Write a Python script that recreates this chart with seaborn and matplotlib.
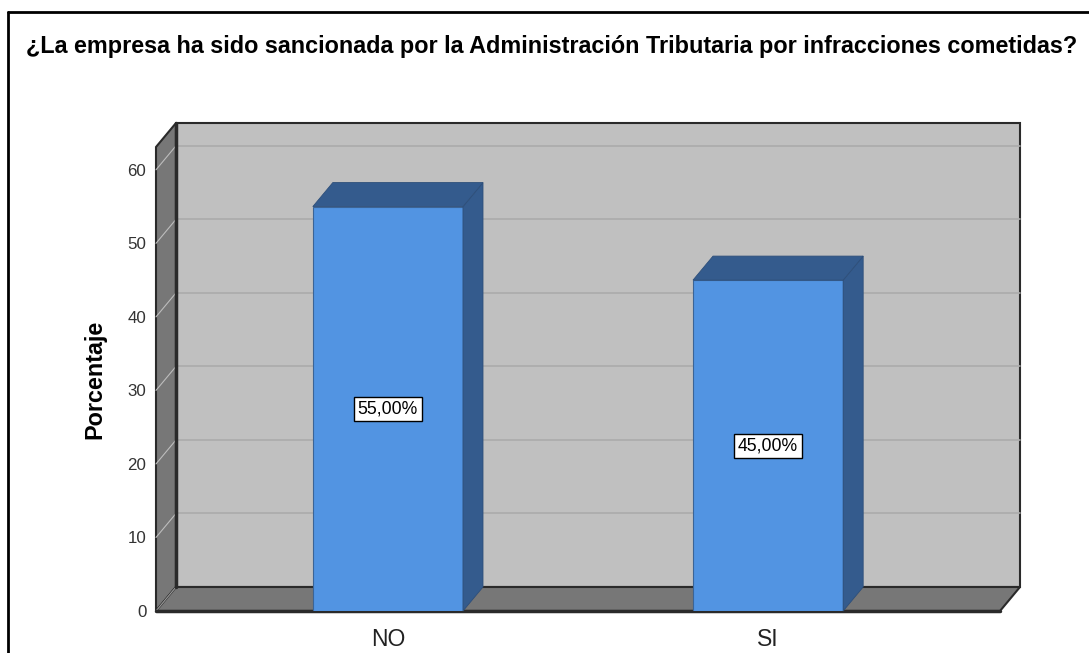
import matplotlib
matplotlib.use("Agg")
import matplotlib.pyplot as plt
from matplotlib.patches import Polygon, Rectangle
from matplotlib.lines import Line2D
import seaborn as sns

# Chart data
categories = ["NO", "SI"]
percentages = [55.0, 45.0]
value_labels = ["55,00%", "45,00%"]
y_ticks = [0, 10, 20, 30, 40, 50, 60]
title = "¿La empresa ha sido sancionada por la Administración Tributaria por infracciones cometidas?"

# Colours (SPSS style 3D chart)
wall_color = "#C0C0C0"
side_color = "#777777"
edge_color = "#2A2A2A"
bar_front = "#5294E2"
bar_shade = "#345B8D"

sns.set_theme(style="white")
plt.rcParams["font.family"] = ["Liberation Sans", "DejaVu Sans"]

W, H = 1089, 653
fig = plt.figure(figsize=(W / 100, H / 100), dpi=100)

# front plane of the box, in pixels
left_px, right_px, bottom_px, top_px = 156, 1000, 611, 147
ax = fig.add_axes([left_px / W, 1 - bottom_px / H,
                   (right_px - left_px) / W, (bottom_px - top_px) / H])

# Front faces of the bars
sns.barplot(x=categories, y=percentages, color=bar_front, saturation=1,
            width=0.395, edgecolor="#3B6496", linewidth=0.8, ax=ax, zorder=3)

y_max = 63.1
x_min, x_max = -0.61, 1.61
ax.set_xlim(x_min, x_max)
ax.set_ylim(0, y_max)

# depth of the box in data units (20 px right, 24 px up)
dx = 20 * (x_max - x_min) / (right_px - left_px)
dy = 24 * y_max / (bottom_px - top_px)

# back wall
ax.add_patch(Rectangle((x_min + dx, dy), x_max - x_min, y_max, facecolor=wall_color,
                       edgecolor=edge_color, lw=1.5, zorder=0, clip_on=False))
for v in y_ticks[1:]:
    ax.plot([x_min + dx, x_max + dx], [v + dy, v + dy], color="#ABABAB", lw=1.2,
            zorder=0.5, clip_on=False)

# left wall
ax.add_patch(Polygon([(x_min, 0), (x_min + dx, dy), (x_min + dx, y_max + dy), (x_min, y_max)],
                     closed=True, facecolor=side_color, edgecolor=edge_color, lw=1.5,
                     zorder=1, clip_on=False))
for v in y_ticks[1:]:
    ax.plot([x_min, x_min + dx], [v, v + dy], color="#BDBDBD", lw=0.8, zorder=1.2, clip_on=False)
ax.plot([x_min, x_min + dx], [0, dy], color="#9A9A9A", lw=0.8, zorder=1.2, clip_on=False)

# floor
ax.add_patch(Polygon([(x_min, 0), (x_max, 0), (x_max + dx, dy), (x_min + dx, dy)],
                     closed=True, facecolor=side_color, edgecolor=edge_color, lw=1.5,
                     zorder=1, clip_on=False))
ax.plot([x_min, x_max], [0, 0], color=edge_color, lw=2.5, zorder=1.5, clip_on=False)
ax.plot([x_min + dx, x_min + dx], [dy, y_max + dy], color=edge_color, lw=2.5, zorder=1.5,
        clip_on=False)

# 3D top and side faces of each bar, plus value labels
for bar, lab in zip(ax.patches, value_labels):
    x0, w, h = bar.get_x(), bar.get_width(), bar.get_height()
    ax.add_patch(Polygon([(x0 + w, 0), (x0 + w + dx, dy), (x0 + w + dx, h + dy), (x0 + w, h)],
                         closed=True, facecolor=bar_shade, edgecolor="#2E4F7A", lw=0.6,
                         zorder=3, clip_on=False))
    ax.add_patch(Polygon([(x0, h), (x0 + w, h), (x0 + w + dx, h + dy), (x0 + dx, h + dy)],
                         closed=True, facecolor=bar_shade, edgecolor="#2E4F7A", lw=0.6,
                         zorder=3, clip_on=False))
    ax.text(x0 + w / 2, h / 2, lab, ha="center", va="center", fontsize=12.7, color="black",
            zorder=5, bbox=dict(boxstyle="square,pad=0.2", facecolor="white",
                                edgecolor="black", lw=1))

# axes styling
ax.set_facecolor("none")
for s in ax.spines.values():
    s.set_visible(False)
ax.grid(False)
ax.set_yticks(y_ticks)
ax.tick_params(axis="y", length=0, pad=7, labelsize=12.2, labelcolor="#333333")
ax.tick_params(axis="x", length=0, pad=12, labelsize=16.5, labelcolor="#222222")
ax.set_xlabel("")
ax.set_ylabel("Porcentaje", fontsize=16.8, fontweight="bold", color="black")
ax.yaxis.set_label_coords((106 - left_px) / (right_px - left_px), 0.5)

# title and frame
fig.text(26 / W, 1 - 46 / H, title, ha="left", va="center", fontsize=16.8,
         fontweight="bold", color="black")
fig.add_artist(Line2D([8 / W, 8 / W], [0, 1 - 12 / H], transform=fig.transFigure,
                      color="black", lw=2))
fig.add_artist(Line2D([8 / W, 1], [1 - 12 / H, 1 - 12 / H], transform=fig.transFigure,
                      color="black", lw=2))

fig.savefig("out.png", dpi=100)
